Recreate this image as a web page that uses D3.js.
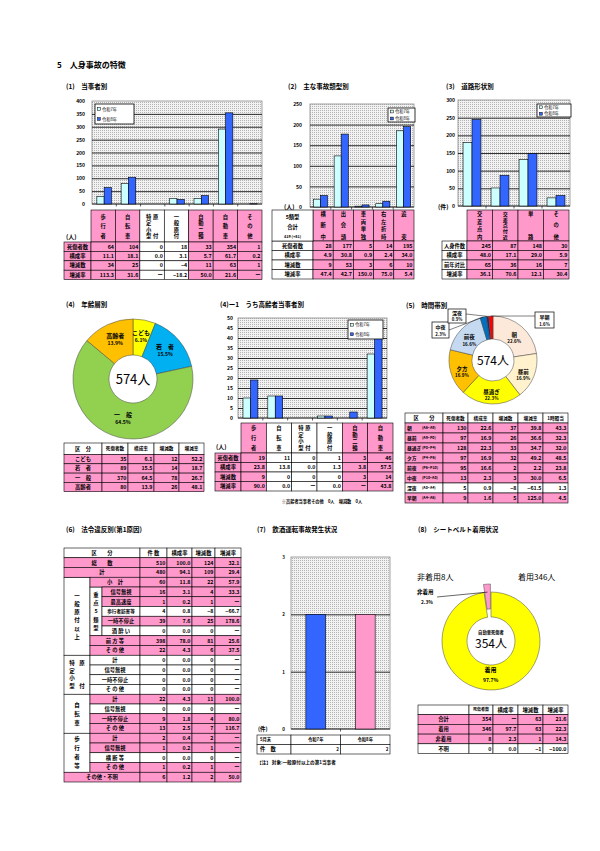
<!DOCTYPE html>
<html><head><meta charset="utf-8">
<script src="https://cdn.jsdelivr.net/npm/d3@7"></script>
<style>
body{margin:0;background:#fff;}
svg{display:block;}
text{font-family:"Noto Sans CJK JP","Noto Sans",sans-serif;}
</style></head>
<body><svg id="page" width="600" height="851"></svg>
<script>
// ---- data ----
const years=['令和7年','令和8年'];

// (1) 当事者別
const partyCats=['歩行者','自転車','特定小型原付','一般原付','自動二輪','自動車','その他'];
const partyHead=[['歩行者'],['自転車'],['特定小型','原付'],['一般原付'],['自動二輪'],['自動車'],['その他']];
const partyR7=[30,79,0,22,22,291,0];
const partyR8=[64,104,0,18,33,354,1];
const partyTicks=[0,50,100,150,200,250,300,350,400];
const partyShare=['11.1','18.1','0.0','3.1','5.7','61.7','0.2'];
const partyDiff=['34','25','0','−4','11','63','1'];
const partyRate=['113.3','31.6','ー','−18.2','50.0','21.6','ー'];

// (2) 主な事故類型別
const typeCats=['横断中','出会頭','車両単独','右左折時','追突'];
const typeHead=[['横断中'],['出会頭'],['車両単独'],['右左折時'],['追突']];
const typeR7=[19,124,2,8,185];
const typeR8=[28,177,5,14,195];
const typeTicks=[0,50,100,150,200,250];
const typeShare=['4.9','30.8','0.9','2.4','34.0'];
const typeDiff=['9','53','3','6','10'];
const typeRate=['47.4','42.7','150.0','75.0','5.4'];
const typeTotal=['5類型','合計','419 (+81)'];

// (3) 道路形状別
const roadCats=['交差点内','交差点付近','単路','その他'];
const roadHead=[['交差点内'],['交差点付近'],['単路'],['その他']];
const roadR7=[180,51,132,23];
const roadR8=[245,87,148,30];
const roadTicks=[0,50,100,150,200,250,300];
const roadShare=['48.0','17.1','29.0','5.9'];
const roadDiff=['65','36','16','7'];
const roadRate=['36.1','70.6','12.1','30.4'];

// (4) 年齢層別
const ageCats=['こども','若　者','一　般','高齢者'];
const ageCount=[35,89,370,80];
const ageShare=['6.1','15.5','64.5','13.9'];
const ageDiff=['12','14','78','26'];
const ageRate=['52.2','18.7','26.7','48.1'];

// (4)-1 うち高齢者当事者別
const elderCats=['歩行者','自転車','特定小型原付','一般原付','自動二輪','自動車'];
const elderHead=[['歩行者'],['自転車'],['特定小型','原付'],['一般原付'],['自動二輪'],['自動車']];
const elderR7=[10,11,0,1,0,32];
const elderR8=[19,11,0,1,3,46];
const elderTicks=[0,5,10,15,20,25,30,35,40,45,50];
const elderShare=['23.8','13.8','0.0','1.3','3.8','57.5'];
const elderDiff=['9','0','0','0','3','14'];
const elderRate=['90.0','0.0','ー','0.0','ー','43.8'];

// (5) 時間帯別
const timeCats=['朝','昼前','昼過ぎ','夕方','前夜','中夜','深夜','早朝'];
const timeHours=['(A6~A9)','(A9~P0)','(P0~P4)','(P4~P6)','(P6~P10)','(P10~A0)','(A0~A4)','(A4~A6)'];
const timeCount=[130,97,128,97,95,13,5,9];
const timeShare=['22.6','16.9','22.3','16.9','16.6','2.3','0.9','1.6'];
const timeDiff=['37','26','33','32','2','3','−8','5'];
const timeRate=['39.8','36.6','34.7','49.2','2.2','30.0','−61.5','125.0'];
const timePerHour=['43.3','32.3','32.0','48.5','23.8','6.5','1.3','4.5'];

// (6) 法令違反別
const violLabels=['総　　数','計','小　計','信号無視','最高速度','歩行者妨害等','一時不停止','酒 酔 い','前 方 等','そ の 他',
  '計','信号無視','一時不停止','そ の 他','計','信号無視','一時不停止','そ の 他','計','信号無視','横 断 等','そ の 他','その他・不明'];
const violCount=['510','480','60','16','1','4','39','0','398','22','0','0','0','0','22','0','9','13','2','1','0','1','6'];
const violShare=['100.0','94.1','11.8','3.1','0.2','0.8','7.6','0.0','78.0','4.3','0.0','0.0','0.0','0.0','4.3','0.0','1.8','2.5','0.4','0.2','0.0','0.2','1.2'];
const violDiff=['124','109','22','4','1','−8','25','0','81','6','0','0','0','0','11','0','4','7','2','1','0','1','2'];
const violRate=['32.1','29.4','57.9','33.3','ー','−66.7','178.6','ー','25.6','37.5','ー','ー','ー','ー','100.0','ー','80.0','116.7','ー','ー','ー','ー','50.0'];
const violGroups=[{name:['一般原付以上'],from:2,to:9},{name:['特定小型','原付'],from:10,to:13},{name:['自転車'],from:14,to:17},{name:['歩行者等'],from:18,to:21}];
const violSub={name:'重点5類型',from:3,to:7};

// (7) 飲酒運転
const drunkCats=['令和7年','令和8年'];
const drunkCount=[2,2];
const drunkTicks=[0,1,2,3];

// (8) シートベルト
const beltCats=['着用','非着用'];
const beltCount=[346,8];
const beltShare=['97.7','2.3'];
const beltRows=['合計','着用','非着用','不明'];
const beltTCount=['354','346','8','0'];
const beltTShare=['ー','97.7','2.3','0.0'];
const beltTDiff=['63','63','1','−1'];
const beltTRate=['21.6','22.3','14.3','−100.0'];

// ---- styles ----
const PINK='#ff99cc', CYAN='#ccffff', BLUE='#3366ff';
const NUMF='"Liberation Sans",Arial,sans-serif';
const svg=d3.select('#page');
const defs=svg.append('defs');
const pat=defs.append('pattern').attr('id','dots').attr('width',2).attr('height',2).attr('patternUnits','userSpaceOnUse');
pat.append('rect').attr('width',2).attr('height',2).attr('fill','#f2f2f2');
pat.append('rect').attr('width',1).attr('height',1).attr('fill','#b4b4b4');

function txt(g,x,y,s,fs,o={}){
  return g.append('text').attr('x',x).attr('y',y).text(s).attr('font-size',fs)
    .attr('text-anchor',o.anchor||'start').attr('font-weight',o.bold===false?'normal':'bold')
    .attr('font-family',o.num?NUMF:null);
}
function cell(g,x,y,w,h,fill){
  g.append('rect').attr('x',x).attr('y',y).attr('width',w).attr('height',h)
    .attr('fill',fill).attr('stroke','#000').attr('stroke-width',0.6);
}
function num(g,x,y,w,h,s,fs){ txt(g,x+w-1.5,y+h/2+fs*0.36,s,fs,{anchor:'end',num:true}); }
function mid(g,x,y,w,h,s,fs){ txt(g,x+w/2,y+h/2+fs*0.36,s,fs,{anchor:'middle'}); }
function vtext(g,cx,y1,y2,str,fs){
  const ch=[...str], n=ch.length;
  const f=n>1?Math.min(fs,(y2-y1)/(n-1)*0.88):fs;
  ch.forEach((c,i)=>{
    const cy=n===1?(y1+y2)/2:y1+(y2-y1)*i/(n-1);
    txt(g,cx,cy+f*0.36,c,f,{anchor:'middle'});
  });
}
function vstack(g,cx,cy,str,fs,gap){
  const ch=[...str], n=ch.length;
  ch.forEach((c,i)=>txt(g,cx,cy+(i-(n-1)/2)*gap+fs*0.36,c,fs,{anchor:'middle'}));
}

function barChart(o){
  const g=svg.append('g');
  const x=d3.scaleBand().domain(o.cats).range([o.left,o.right])
    .paddingInner(o.pIn||0).paddingOuter(o.pOut||0);
  const n=o.series.length;
  const inner=d3.scaleBand().domain(d3.range(n)).range([x.bandwidth()*(o.pad||0),x.bandwidth()*(1-(o.pad||0))]);
  const y=d3.scaleLinear().domain([0,d3.max(o.ticks)]).range([o.bottom,o.top]);
  g.append('rect').attr('x',o.left).attr('y',o.top).attr('width',o.right-o.left).attr('height',o.bottom-o.top)
    .attr('fill','url(#dots)').attr('stroke','#8c8c8c').attr('stroke-width',0.8);
  const grid=g.append('g').attr('transform',`translate(${o.left},0)`)
    .call(d3.axisLeft(y).tickValues(o.ticks.slice(1,-1)).tickSize(-(o.right-o.left)).tickFormat(''));
  grid.select('.domain').remove();
  grid.selectAll('line').attr('stroke','#000').attr('stroke-width',0.8);
  const ax=g.append('g').attr('transform',`translate(${o.left},0)`)
    .call(d3.axisLeft(y).tickValues(o.ticks).tickSize(0).tickPadding(o.tickPad).tickFormat(d3.format('d')));
  ax.select('.domain').remove();
  ax.selectAll('text').attr('font-size',o.tickFs||5).attr('font-family',NUMF).attr('font-weight','bold');
  g.append('line').attr('x1',o.left).attr('x2',o.right).attr('y1',o.bottom).attr('y2',o.bottom)
    .attr('stroke','#000').attr('stroke-width',0.8);
  const bounds=o.cats.slice(1).map((c,i)=>(x(o.cats[i])+x.bandwidth()+x(c))/2);
  g.selectAll('line.xt').data(bounds).join('line').attr('class','xt')
    .attr('x1',d=>d).attr('x2',d=>d).attr('y1',o.bottom).attr('y2',o.bottom+2.5)
    .attr('stroke','#000').attr('stroke-width',0.6);
  o.series.forEach((vals,i)=>{
    g.selectAll(null).data(vals.map((v,j)=>({v,c:o.cats[j],j})).filter(d=>d.v>0)).join('rect')
      .attr('x',d=>x(d.c)+inner(i)).attr('width',inner.bandwidth())
      .attr('y',d=>y(d.v)).attr('height',d=>o.bottom-y(d.v))
      .attr('fill',d=>o.colorBy?o.colors[d.j]:o.colors[i]).attr('stroke','#000').attr('stroke-width',0.6);
  });
  if(o.legend){
    const L=o.legend;
    g.append('rect').attr('x',L.x).attr('y',L.y).attr('width',L.w).attr('height',L.h)
      .attr('fill','#fff').attr('stroke','#000').attr('stroke-width',0.8);
    years.forEach((nm,i)=>{
      const cy=L.y+L.h*(i+0.5)/years.length;
      g.append('rect').attr('x',L.x+2.5).attr('y',cy-1.4).attr('width',2.8).attr('height',2.8)
        .attr('fill',o.colors[i]).attr('stroke','#000').attr('stroke-width',0.5);
      txt(g,L.x+7,cy+1.5,nm,4.2,{bold:false});
    });
  }
  return {g,x,y};
}

function catTable(o){
  const g=svg.append('g');
  const cx=d3.scaleBand().domain(d3.range(o.heads.length)).range([o.x0,o.x1]);
  const bw=cx.bandwidth();
  o.heads.forEach((h,i)=>{
    cell(g,cx(i),o.top,bw,o.headH,o.colFill(i));
    const c=cx(i)+bw/2;
    if(h.length===1) vtext(g,c,o.top+o.vp[0],o.top+o.headH-o.vp[1],h[0],o.fs);
    else{
      vtext(g,c-3.5,o.top+o.vp[0],o.top+o.headH-o.vp[1],h[0],o.fs);
      vtext(g,c+3.5,o.top+o.vp[0],o.top+o.headH-o.vp[1],h[1],o.fs);
    }
  });
  o.rows.forEach((r,k)=>{
    const y=o.top+o.headH+k*o.rowH;
    cell(g,o.lx,y,o.lw,o.rowH,o.labelFill);
    mid(g,o.lx,y,o.lw,o.rowH,r.name,o.fs);
    r.vals.forEach((v,i)=>{
      cell(g,cx(i),y,bw,o.rowH,o.cellFill(i));
      num(g,cx(i),y,bw,o.rowH,String(v),o.fs);
    });
  });
  return g;
}

// ---- headings ----
const hd=svg.append('g');
txt(hd,57,68,'5　人身事故の特徴',8);
txt(hd,66,89,'(1)　当事者別',6.5);
txt(hd,288,89,'(2)　主な事故類型別',6.5);
txt(hd,446,89,'(3)　道路形状別',6.5);
txt(hd,66,307,'(4)　年齢層別',6.5);
txt(hd,220,307,'(4)ー1　うち高齢者当事者別',6.5);
txt(hd,406,308,'(5)　時間帯別',6.5);
txt(hd,66,532,'(6)　法令違反別(第1原因)',6.5);
txt(hd,257,532,'(7)　飲酒運転事故発生状況',6.5);
txt(hd,418,532,'(8)　シートベルト着用状況',6.5);

// ---- (1) ----
barChart({cats:partyCats,series:[partyR7,partyR8],colors:[CYAN,BLUE],ticks:partyTicks,
  left:92,right:262,top:101,bottom:204,tickPad:7,pad:0.2,legend:{x:95,y:104,w:39,h:20}});
const t1=catTable({heads:partyHead,x0:91,x1:262,top:210,headH:32,rowH:9.4,lx:64,lw:27,fs:5.3,vp:[7,6],
  colFill:i=>[1,1,0,0,1,1,1][i]?PINK:'#fff',cellFill:i=>[1,1,0,0,1,1,1][i]?PINK:'#fff',labelFill:PINK,
  rows:[{name:'死傷者数',vals:partyR8},{name:'構成率',vals:partyShare},{name:'増減数',vals:partyDiff},{name:'増減率',vals:partyRate}]});
txt(t1,66,239,'(人)',6);

// ---- (2) ----
barChart({cats:typeCats,series:[typeR7,typeR8],colors:[CYAN,BLUE],ticks:typeTicks,
  left:310,right:414,top:104,bottom:207,tickPad:8,pad:0.16,legend:{x:388,y:108,w:27,h:14}});
const t2=catTable({heads:typeHead,x0:313,x1:414,top:210,headH:31,rowH:9.5,lx:272,lw:41,fs:5.3,vp:[4,4],
  colFill:()=>PINK,cellFill:()=>PINK,labelFill:'#fff',
  rows:[{name:'死傷者数',vals:typeR8},{name:'構成率',vals:typeShare},{name:'増減数',vals:typeDiff},{name:'増減率',vals:typeRate}]});
cell(t2,272,210,41,31,'#fff');
txt(t2,292.5,219,typeTotal[0],5.3,{anchor:'middle'});
txt(t2,292.5,229,typeTotal[1],5.3,{anchor:'middle'});
txt(t2,292.5,238,typeTotal[2],3.8,{anchor:'middle',num:true});
txt(t2,284,209,'(人)',6);

// ---- (3) ----
barChart({cats:roadCats,series:[roadR7,roadR8],colors:[CYAN,BLUE],ticks:roadTicks,
  left:458,right:570,top:100,bottom:206,tickPad:3,pad:0.18,legend:{x:537,y:104,w:34,h:13}});
const t3=catTable({heads:roadHead,x0:467,x1:569,top:210,headH:31,rowH:9.5,lx:442,lw:25,fs:5.3,vp:[4,4],
  colFill:()=>PINK,cellFill:()=>PINK,labelFill:'#fff',
  rows:[{name:'人身件数',vals:roadR8},{name:'構成率',vals:roadShare},{name:'前年対比',vals:roadDiff},{name:'増減率',vals:roadRate}]});
txt(t3,438,209,'(件)',6);

// ---- donut helper ----
function donut(o){
  const g=svg.append('g').attr('transform',`translate(${o.cx},${o.cy})`);
  const arcs=d3.pie().sort(null).value(d=>d)(o.values);
  const arc=d3.arc().innerRadius(o.r0).outerRadius(o.r1);
  g.selectAll('path').data(arcs).join('path').attr('d',arc)
    .attr('fill',(d,i)=>o.colors[i]).attr('stroke','#444').attr('stroke-width',0.5)
    .attr('transform',(d,i)=>{
      const e=o.explode?o.explode[i]:0; if(!e) return null;
      const a=(d.startAngle+d.endAngle)/2;
      return `translate(${e*Math.sin(a)},${-e*Math.cos(a)})`;
    });
  return {g,arcs,arc};
}

// ---- (4) ----
const d4=donut({cx:133,cy:379,r0:24,r1:60,values:ageCount,colors:['#ffff00','#00b0f0','#92d050','#ffc000']});
d4.arcs.forEach((a,i)=>{
  const c=d4.arc.centroid(a);
  txt(d4.g,c[0],c[1]-3,ageCats[i],6,{anchor:'middle'});
  txt(d4.g,c[0],c[1]+4.5,ageShare[i]+'%',5,{anchor:'middle',num:true});
});
txt(d4.g,0,5,'574人',13,{anchor:'middle',bold:false});
(function(){
  const g=svg.append('g');
  const X=[64,102,128,154,179,204], top=443, hh=11.5, rh=9.3, fs=5.3;
  const heads=['区　分','死傷者数','構成率','増減数','増減率'];
  heads.forEach((h,i)=>{cell(g,X[i],top,X[i+1]-X[i],hh,'#fff');mid(g,X[i],top,X[i+1]-X[i],hh,h,i?4.6:fs);});
  ageCats.forEach((c,k)=>{
    const y=top+hh+k*rh;
    cell(g,X[0],y,X[1]-X[0],rh,PINK); mid(g,X[0],y,X[1]-X[0],rh,c,fs);
    [ageCount[k],ageShare[k],ageDiff[k],ageRate[k]].forEach((v,i)=>{
      cell(g,X[i+1],y,X[i+2]-X[i+1],rh,PINK); num(g,X[i+1],y,X[i+2]-X[i+1],rh,String(v),fs);
    });
  });
})();

// ---- (4)-1 ----
barChart({cats:elderCats,series:[elderR7,elderR8],colors:[CYAN,BLUE],ticks:elderTicks,
  left:238,right:387,top:318,bottom:418,tickPad:5,pad:0.2,legend:{x:348,y:320,w:35,h:19}});
const t41=catTable({heads:elderHead,x0:241,x1:393,top:423,headH:30,rowH:9.5,lx:215,lw:26,fs:5.3,vp:[5,5],
  colFill:i=>[1,0,0,0,1,1][i]?PINK:'#fff',cellFill:i=>[1,0,0,0,1,1][i]?PINK:'#fff',labelFill:PINK,
  rows:[{name:'死傷者数',vals:elderR8},{name:'構成率',vals:elderShare},{name:'増減数',vals:elderDiff},{name:'増減率',vals:elderRate}]});
txt(t41,216,449,'(人)',6);
txt(t41,322,503,'※高齢者当事者その他　0人　増減数　0人',4.2,{anchor:'middle'});

// ---- (5) ----
const d5=donut({cx:493,cy:360,r0:21,r1:44,values:timeCount,
  colors:['#fde9d9','#fff2cc','#ffff00','#ffc000','#c5d9f1','#0070c0','#1f2a6e','#ff0000']});
const timeCallouts={'中夜':{x:432,y:322,w:17,h:16,ax:449,ay:330},'深夜':{x:448,y:309,w:18,h:14,ax:466,ay:314},'早朝':{x:535,y:312,w:19,h:16,ax:535,ay:316}};
d5.arcs.forEach((a,i)=>{
  const nm=timeCats[i], co=timeCallouts[nm];
  if(co){
    const m=(a.startAngle+a.endAngle)/2;
    d5.g.append('line').attr('x1',co.ax-493).attr('y1',co.ay-360)
      .attr('x2',44*Math.sin(m)).attr('y2',-44*Math.cos(m)).attr('stroke','#000').attr('stroke-width',0.5);
    d5.g.append('rect').attr('x',co.x-493).attr('y',co.y-360).attr('width',co.w).attr('height',co.h)
      .attr('fill','#fff').attr('stroke','#000').attr('stroke-width',0.7);
    txt(d5.g,co.x-493+co.w/2,co.y-360+co.h*0.45,nm,5,{anchor:'middle'});
    txt(d5.g,co.x-493+co.w/2,co.y-360+co.h*0.85,timeShare[i]+'%',4.3,{anchor:'middle',num:true});
  } else {
    const c=d5.arc.centroid(a);
    txt(d5.g,c[0],c[1]+1.5,nm,5.5,{anchor:'middle'});
    txt(d5.g,c[0],c[1]+8,timeShare[i]+'%',4.5,{anchor:'middle',num:true});
  }
});
txt(d5.g,0,5,'574人',12,{anchor:'middle',bold:false});
(function(){
  const g=svg.append('g');
  const X=[405,443,468,493,518,543,568], top=413, hh=10, rh=10, fs=5.3;
  const heads=['区　　分','死傷者数','構成率','増減数','増減率','1時間当'];
  heads.forEach((h,i)=>{cell(g,X[i],top,X[i+1]-X[i],hh,'#fff');mid(g,X[i],top,X[i+1]-X[i],hh,h,i?4.6:fs);});
  timeCats.forEach((c,k)=>{
    const y=top+hh+k*rh, f=c==='深夜'?'#fff':PINK;
    cell(g,X[0],y,X[1]-X[0],rh,f);
    txt(g,X[0]+2,y+rh/2+1.8,c,4.8);
    txt(g,X[0]+17,y+rh/2+1.4,timeHours[k],3.6,{num:true});
    [timeCount[k],timeShare[k],timeDiff[k],timeRate[k],timePerHour[k]].forEach((v,i)=>{
      cell(g,X[i+1],y,X[i+2]-X[i+1],rh,f); num(g,X[i+1],y,X[i+2]-X[i+1],rh,String(v),fs);
    });
  });
})();

// ---- (6) ----
(function(){
  const g=svg.append('g');
  const X=[64,90,102,140,167,192,215,241], top=548, rh=9.75, fs=5.3;
  const pinkRow=[1,1,1,1,1,0,1,0,1,1,0,0,0,0,1,0,1,1,1,1,0,1,1];
  cell(g,X[0],top,X[3]-X[0],rh,'#fff'); mid(g,X[0],top,X[3]-X[0],rh,'区　　分',fs);
  ['件 数','構成率','増減数','増減率'].forEach((h,i)=>{cell(g,X[i+3],top,X[i+4]-X[i+3],rh,'#fff');mid(g,X[i+3],top,X[i+4]-X[i+3],rh,h,fs);});
  violGroups.forEach(gr=>{
    const y1=top+rh*(gr.from+1), y2=top+rh*(gr.to+2);
    cell(g,X[0],y1,X[1]-X[0],y2-y1,'#fff');
    if(gr.name.length===1) vstack(g,(X[0]+X[1])/2,(y1+y2)/2,gr.name[0],5.5,gr.name[0].length>4?8.2:9);
    else{
      vstack(g,(X[0]+X[1])/2-5,(y1+y2)/2,gr.name[0],5.5,7.5);
      vtext(g,(X[0]+X[1])/2+5,(y1+y2)/2-11.25,(y1+y2)/2+11.25,gr.name[1],5.5);
    }
  });
  {
    const y1=top+rh*(violSub.from+1), y2=top+rh*(violSub.to+2);
    cell(g,X[1],y1,X[2]-X[1],y2-y1,'#fff');
    vstack(g,(X[1]+X[2])/2,(y1+y2)/2,violSub.name,5.3,8.3);
  }
  violLabels.forEach((lb,k)=>{
    const y=top+rh*(k+1), f=pinkRow[k]?PINK:'#fff';
    const full=(k<2||k===violLabels.length-1), sub=(k>=violSub.from&&k<=violSub.to);
    const lx=full?X[0]:(sub?X[2]:X[1]);
    cell(g,lx,y,X[3]-lx,rh,f); mid(g,lx,y,X[3]-lx,rh,lb,k===5?4.6:fs);
    [violCount[k],violShare[k],violDiff[k],violRate[k]].forEach((v,i)=>{
      cell(g,X[i+3],y,X[i+4]-X[i+3],rh,f); num(g,X[i+3],y,X[i+4]-X[i+3],rh,v,fs);
    });
  });
})();

// ---- (7) ----
const c7=barChart({cats:drunkCats,series:[drunkCount],colors:[BLUE,PINK],colorBy:true,ticks:drunkTicks,
  left:291,right:390,top:557,bottom:729,tickPad:6,tickFs:4.5,pIn:0.6,pOut:0.3});
(function(){
  const g=svg.append('g');
  const step=c7.x.step(), x0=291, top=735, rh=9.5;
  cell(g,257,top,x0-257,rh,'#fff'); txt(g,260,top+6.2,'5月末',4.3);
  cell(g,257,top+rh,x0-257,rh,'#fff'); txt(g,260,top+rh+6.4,'件　数',5.3);
  drunkCats.forEach((c,i)=>{
    cell(g,x0+i*step,top,step,rh,'#fff'); mid(g,x0+i*step,top,step,rh,c,4.3);
    cell(g,x0+i*step,top+rh,step,rh,'#fff'); num(g,x0+i*step,top+rh,step,rh,String(drunkCount[i]),4.5);
  });
  txt(g,258,731,'(件)',5.5);
  txt(g,257,764,'【注】 対象:一般原付以上の第1当事者',4.6);
})();

// ---- (8) ----
const d8=donut({cx:491,cy:641,r0:24,r1:49,values:beltCount,colors:['#ffff00',PINK],explode:[0,8]});
(function(){
  const a=d8.arcs[0], c=d8.arc.centroid(a);
  txt(d8.g,c[0]-3,c[1]-5,beltCats[0],6,{anchor:'middle'});
  txt(d8.g,c[0]-3,c[1]+5,beltShare[0]+'%',5,{anchor:'middle',num:true});
  const p=d8.arcs[1], m=(p.startAngle+p.endAngle)/2, r=41;
  d8.g.append('line').attr('x1',437-491).attr('y1',597-641)
    .attr('x2',(r+8)*Math.sin(m)).attr('y2',-(r+8)*Math.cos(m)+0).attr('stroke','#000').attr('stroke-width',0.6);
  txt(svg,417,594,'非着用',5.5);
  txt(svg,421,604,beltShare[1]+'%',4.8,{num:true});
  txt(d8.g,0,-7,'自動車死傷者',4.3,{anchor:'middle'});
  txt(d8.g,0,7,'354人',12,{anchor:'middle',bold:false});
  txt(svg,417,580,'非着用8人',8,{bold:false});
  txt(svg,518,580,'着用346人',8,{bold:false});
  const g=svg.append('g');
  const X=[418,469,493,518,543,568], top=705, rh=9.7, fs=5.3;
  ['','死傷者数','構成率','増減数','増減率'].forEach((h,i)=>{cell(g,X[i],top,X[i+1]-X[i],rh,'#fff');mid(g,X[i],top,X[i+1]-X[i],rh,h,i===1?4:fs);});
  beltRows.forEach((nm,k)=>{
    const y=top+rh*(k+1), f=nm==='不明'?'#fff':PINK;
    cell(g,X[0],y,X[1]-X[0],rh,f); mid(g,X[0],y,X[1]-X[0],rh,nm,fs);
    [beltTCount[k],beltTShare[k],beltTDiff[k],beltTRate[k]].forEach((v,i)=>{
      cell(g,X[i+1],y,X[i+2]-X[i+1],rh,f); num(g,X[i+1],y,X[i+2]-X[i+1],rh,v,fs);
    });
  });
})();
</script></body></html>
